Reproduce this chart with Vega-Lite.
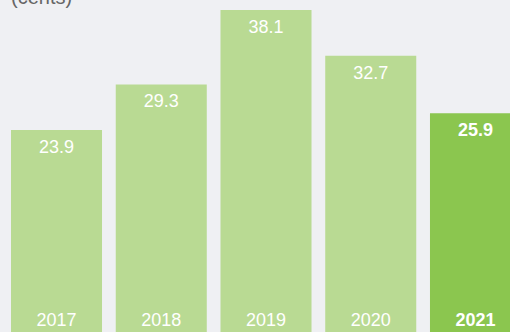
{
  "$schema": "https://vega.github.io/schema/vega-lite/v6.json",
  "width": 510,
  "height": 332,
  "autosize": {"type": "none"},
  "padding": 0,
  "background": "#eff0f3",
  "config": {"view": {"stroke": null}, "font": "Liberation Sans"},
  "title": {"text": "(cents)", "anchor": "start", "frame": "group", "orient": "top", "baseline": "alphabetic", "fontSize": 20, "fontWeight": "normal", "color": "#666666", "font": "Liberation Sans", "offset": 0, "dx": 11, "dy": 24},
  "data": {"values": [
    {"year": "2017", "value": 23.9, "period": "prior"},
    {"year": "2018", "value": 29.3, "period": "prior"},
    {"year": "2019", "value": 38.1, "period": "prior"},
    {"year": "2020", "value": 32.7, "period": "prior"},
    {"year": "2021", "value": 25.9, "period": "current"}
  ]},
  "encoding": {
    "x": {"field": "year", "type": "ordinal", "axis": null, "scale": {"range": [11, 521], "paddingInner": 0.131, "paddingOuter": 0}}
  },
  "layer": [
    {
      "mark": {"type": "bar", "clip": false},
      "encoding": {
        "y": {"field": "value", "type": "quantitative", "axis": null, "scale": {"domain": [0, 39.29], "nice": false, "zero": true}},
        "color": {"field": "period", "type": "nominal", "legend": null, "scale": {"domain": ["prior", "current"], "range": ["#b9da93", "#8bc64f"]}}
      }
    },
    {
      "transform": [{"filter": "datum.period === 'prior'"}],
      "mark": {"type": "text", "baseline": "top", "dy": 9, "fontSize": 18, "color": "white"},
      "encoding": {
        "y": {"field": "value", "type": "quantitative"},
        "text": {"field": "value", "type": "quantitative", "format": ".1f"}
      }
    },
    {
      "transform": [{"filter": "datum.period === 'current'"}],
      "mark": {"type": "text", "baseline": "top", "dy": 9, "fontSize": 18, "fontWeight": "bold", "color": "white"},
      "encoding": {
        "y": {"field": "value", "type": "quantitative"},
        "text": {"field": "value", "type": "quantitative", "format": ".1f"}
      }
    },
    {
      "transform": [{"filter": "datum.period === 'prior'"}],
      "mark": {"type": "text", "baseline": "alphabetic", "dy": -6, "fontSize": 18, "color": "white"},
      "encoding": {
        "y": {"datum": 0, "type": "quantitative"},
        "text": {"field": "year", "type": "nominal"}
      }
    },
    {
      "transform": [{"filter": "datum.period === 'current'"}],
      "mark": {"type": "text", "baseline": "alphabetic", "dy": -6, "fontSize": 18, "fontWeight": "bold", "color": "white"},
      "encoding": {
        "y": {"datum": 0, "type": "quantitative"},
        "text": {"field": "year", "type": "nominal"}
      }
    }
  ]
}
